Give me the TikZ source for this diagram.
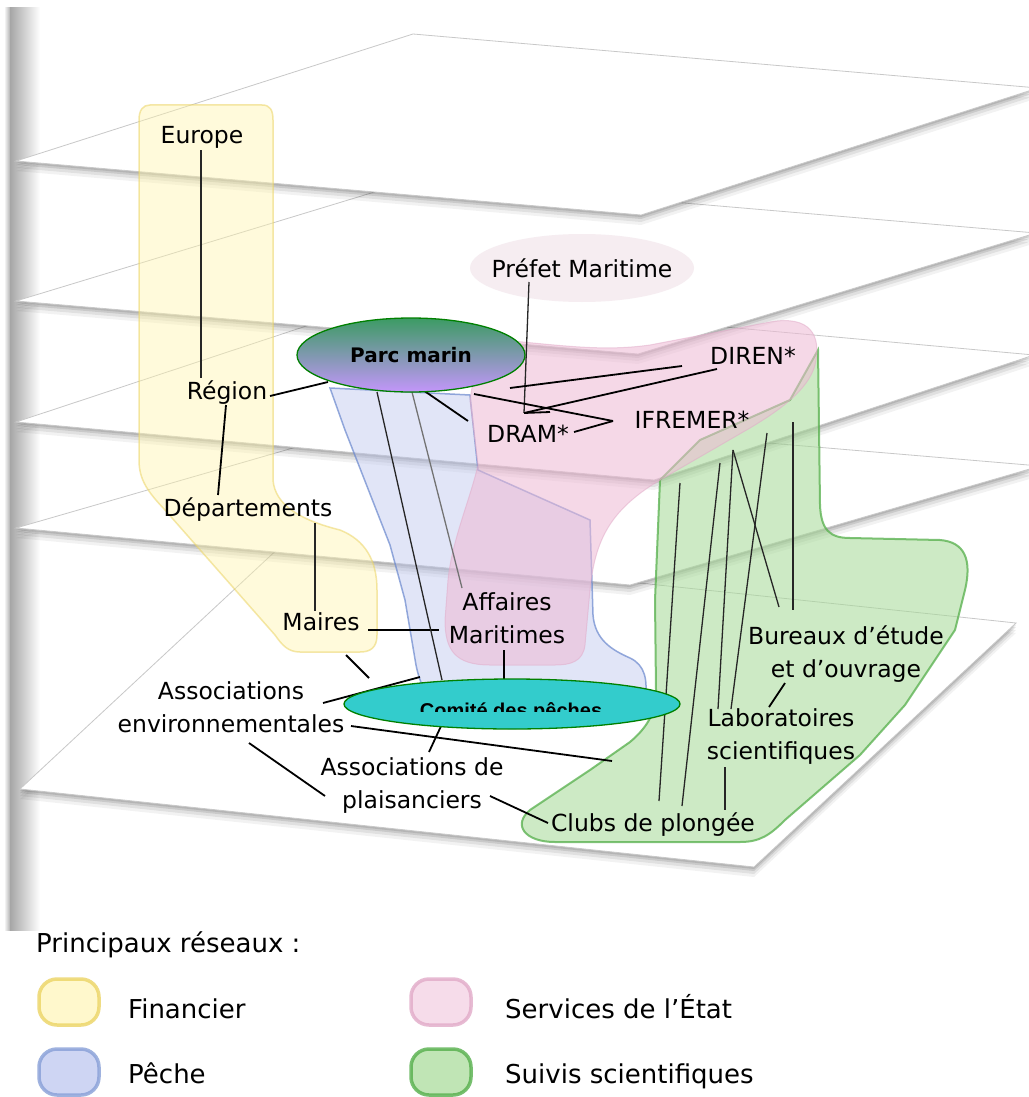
\documentclass[tikz,border=0pt]{standalone}
\usepackage{fontspec}
\setmainfont{DejaVu Sans}
\newfontfamily\arialfont{Liberation Sans}
\usetikzlibrary{shapes.geometric,calc}
\definecolor{yelfill}{RGB}{255,244,170}
\definecolor{yeldraw}{RGB}{235,212,100}
\definecolor{pinkfill}{RGB}{238,185,212}
\definecolor{pinkdraw}{RGB}{225,170,200}
\definecolor{bluefill}{RGB}{185,195,238}
\definecolor{bluedraw}{RGB}{105,135,205}
\definecolor{greenfill}{RGB}{165,218,150}
\definecolor{greendraw}{RGB}{85,175,75}
\definecolor{pmtop}{RGB}{60,155,100}
\definecolor{pmbot}{RGB}{195,150,250}
\definecolor{turq}{RGB}{51,204,204}
\definecolor{dkgreen}{RGB}{0,128,0}
\definecolor{planeedge}{RGB}{200,200,200}
\definecolor{halo}{RGB}{240,225,232}
\newcommand{\myplane}[4]{%
  \foreach \dy/\op in {10/0.05,7/0.07,4/0.1,2/0.1}{%
    \fill[black,opacity=\op] ($#1+(0,\dy)$) -- ($#2+(0,\dy)$) -- ($#3+(0,\dy)$) -- ($#4+(0,\dy)$) -- cycle;}
  \filldraw[fill=white,draw=planeedge,line width=0.8pt] #1 -- #2 -- #3 -- #4 -- cycle;}
\begin{document}
\begin{tikzpicture}[x=1pt,y=-1pt,
  lbl/.style={font=\fontsize{23.5}{33}\selectfont,inner sep=0pt,align=center,text=black},
  leg/.style={font=\fontsize{26}{30}\selectfont,inner sep=0pt,anchor=base west,text=black},
  conn/.style={line width=1.8pt,black},
  thin conn/.style={line width=1.3pt,black!85},
  blob/.style={rounded corners=18pt,line width=3.5pt,minimum width=60pt,minimum height=46pt,draw opacity=0.8}]
\useasboundingbox (0,0) rectangle (1028,1097);
\fill[white] (0,0) rectangle (1028,1097);
% page-edge shadow
\shade[left color=white,right color=gray!60] (4,8) rectangle (10,930);
\shade[left color=gray!70,right color=white] (10,8) rectangle (40,930);
% stacked planes (bottom first)
\myplane{(20,789)}{(282,545)}{(1016,623)}{(754,867)}
\myplane{(16,528)}{(414,413)}{(1040,466)}{(630,585)}
\myplane{(16,422)}{(394,297)}{(1034,355)}{(654,480)}
\myplane{(16,301)}{(414,180)}{(1036,233)}{(638,354)}
\myplane{(16,161)}{(413,34)}{(1038,88)}{(641,215)}
% network regions
\fill[halo,opacity=0.6] (582,268) ellipse [x radius=112, y radius=34];
\path[fill=yelfill,fill opacity=0.42,draw=yeldraw,draw opacity=0.55,line width=1.5pt]
  (150,105) -- (262,105) .. controls (270,105) and (273,110) .. (273,120) -- (273,480)
  .. controls (275,505) and (300,520) .. (340,530) .. controls (365,540) and (377,560) .. (377,590)
  -- (377,635) .. controls (377,648) and (370,652) .. (360,652) -- (300,652)
  .. controls (288,652) and (282,645) .. (275,635) -- (165,510)
  .. controls (148,492) and (139,480) .. (139,460) -- (139,120)
  .. controls (139,110) and (143,105) .. (150,105) -- cycle;
\path[fill=bluefill,fill opacity=0.42,draw=bluedraw,draw opacity=0.7,line width=1.5pt]
  (330,388) -- (470,395) -- (478,470) -- (590,520) -- (593,615)
  .. controls (595,640) and (612,650) .. (630,658) .. controls (645,665) and (648,680) .. (645,700)
  -- (440,705) .. controls (428,700) and (420,685) .. (416,665) -- (405,600) -- (390,545) -- (345,430) -- cycle;
\path[fill=greenfill,fill opacity=0.55,draw=greendraw,draw opacity=0.75,line width=2pt]
  (700,440) -- (790,400) -- (818,350) -- (820,505) .. controls (821,530) and (830,538) .. (850,538)
  -- (940,540) .. controls (965,542) and (972,560) .. (965,590) -- (955,630) -- (905,705) -- (860,755)
  -- (785,820) .. controls (770,835) and (760,842) .. (740,842) -- (555,842)
  .. controls (525,842) and (512,825) .. (530,810) -- (590,770) -- (630,742)
  .. controls (650,725) and (656,710) .. (656,690) -- (655,600) -- (660,480) -- cycle;
\path[fill=pinkfill,fill opacity=0.55,draw=pinkdraw,draw opacity=0.5,line width=1pt]
  (480,338) .. controls (560,345) and (600,352) .. (650,345) -- (770,322) .. controls (810,315) and (822,335) .. (815,365)
  .. controls (808,390) and (780,410) .. (750,428) -- (660,480)
  .. controls (610,510) and (595,540) .. (590,590) -- (585,645)
  .. controls (583,662) and (570,665) .. (555,665) -- (490,665)
  .. controls (455,665) and (445,650) .. (445,620) -- (448,580)
  .. controls (452,540) and (470,500) .. (478,465) -- (470,400) -- cycle;
% labels
\node[lbl] (europe) at (202,137) {Europe};
\node[lbl] (prefet) at (582,268) {Préfet Maritime};
\node[lbl] (diren) at (753,356) {DIREN*};
\node[lbl] (region) at (227,393) {Région};
\node[lbl] (dram) at (528,434) {DRAM*};
\node[lbl] (ifremer) at (692,420) {IFREMER*};
\node[lbl] (dep) at (248,510) {Départements};
\node[lbl] (maires) at (321,622) {Maires};
\node[lbl] (affaires) at (507,618) {Affaires\\Maritimes};
\node[lbl] (assenv) at (231,707) {Associations\\environnementales};
\node[lbl] (assplai) at (412,786) {Associations de\\plaisanciers};
\node[lbl] (bureaux) at (846,654) {Bureaux d'étude\\et d'ouvrage};
\node[lbl] (labo) at (781,737) {Laboratoires\\scientifiques};
\node[lbl] (clubs) at (653,825) {Clubs de plongée};
% junction and free ends
\coordinate (jn) at (524,413);
\coordinate (hid1) at (510,388);
\coordinate (hid2) at (474,394);
\coordinate (ifa) at (680,483);
\coordinate (ifb) at (720,463);
\coordinate (ifc) at (733,450);
\coordinate (ifd) at (767,433);
\coordinate (ife) at (793,422);
\coordinate (gedge) at (612,761);
% connectors
\draw[thin conn] (201,150) -- (201,378);
\draw[conn] (226,405) -- (218,495);
\draw[conn] (270,396) -- (328,382);
\draw[thin conn] (315,523) -- (315,611);
\draw[conn] (368,630) -- (439,630);
\draw[conn] (346,655) -- (369,678);
\draw[conn] (504,650) -- (504,680);
\draw[conn] (323,703) -- (420,677);
\draw[conn] (351,726) -- (gedge);
\draw[conn] (249,743) -- (325,796);
\draw[conn] (490,796) -- (548,823);
\draw[conn] (429,752) -- (442,724);
\draw[thin conn] (377,392) -- (442,680);
\draw[thin conn,black!55] (412,392) -- (462,588);
\draw[conn] (423,390) -- (468,421);
\draw[thin conn] (529,282) -- (jn);
\draw[conn] (jn) -- (550,412);
\draw[conn] (jn) -- (717,369);
\draw[conn] (hid1) -- (682,366);
\draw[conn] (hid2) -- (613,421);
\draw[conn] (574,432) -- (613,421);
\draw[thin conn] (ifa) -- (659,801);
\draw[thin conn] (ifb) -- (682,806);
\draw[thin conn] (ifc) -- (718,709);
\draw[thin conn] (ifd) -- (731,709);
\draw[thin conn] (ifc) -- (779,607);
\draw[thin conn] (ife) -- (793,610);
\draw[conn] (785,683) -- (769,707);
\draw[thin conn] (725,767) -- (725,810);
% ellipses
\node[ellipse,draw=dkgreen,line width=1.3pt,top color=pmtop,bottom color=pmbot,
  minimum width=228pt,minimum height=74pt,inner sep=0pt,
  font=\bfseries\fontsize{20}{24}\selectfont] (parc) at (411,355) {Parc marin};
\node[ellipse,draw=dkgreen,line width=1.3pt,fill=turq,minimum width=336pt,minimum height=50pt,inner sep=0pt] (comite) at (512,704) {};
\begin{scope}
  \clip (340,690) rectangle (690,711);
  \node[font=\arialfont\bfseries\fontsize{20}{24}\selectfont,inner sep=0pt,anchor=base] (comitetext) at (511,717) {Comité des pêches};
\end{scope}
% legend
\node[leg] (legtitle) at (36,952) {Principaux réseaux :};
\node[blob,fill=yelfill!60,draw=yeldraw] (bf) at (69,1002) {};
\node[leg] (lf) at (128,1018) {Financier};
\node[blob,fill=pinkfill!50,draw=pinkdraw] (bs) at (441,1002) {};
\node[leg] (ls) at (505,1018) {Services de l'État};
\node[blob,fill=bluefill!70,draw=bluedraw!80] (bp) at (69,1072) {};
\node[leg] (lp) at (128,1083) {Pêche};
\node[blob,fill=greenfill!70,draw=greendraw] (bg) at (441,1072) {};
\node[leg] (lg) at (505,1083) {Suivis scientifiques};
\end{tikzpicture}
\end{document}
